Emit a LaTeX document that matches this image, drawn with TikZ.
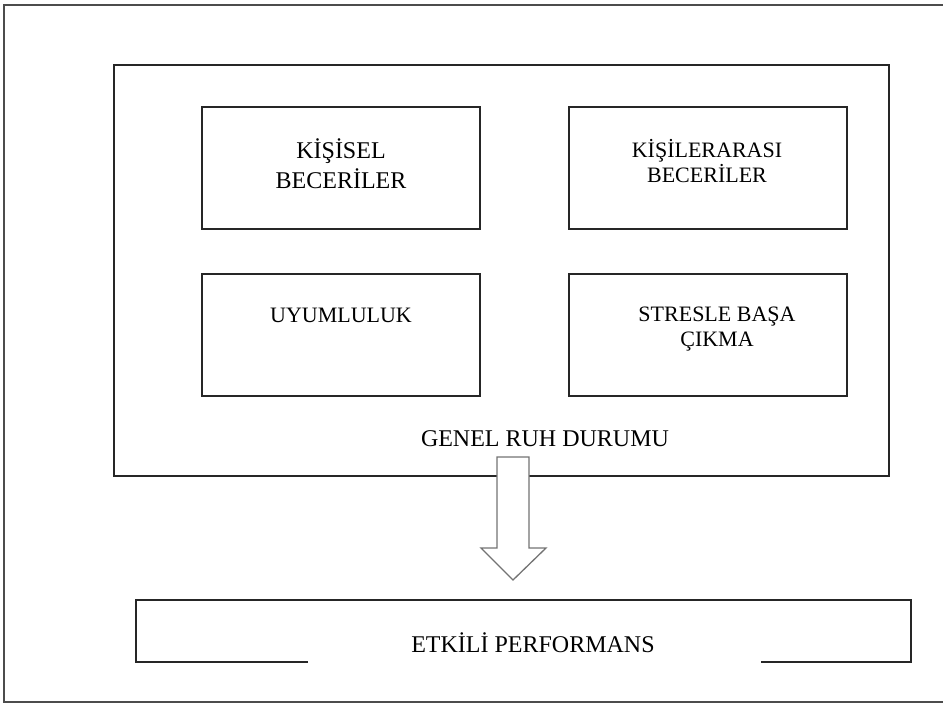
\documentclass[tikz,border=0pt]{standalone}
\usepackage{fontspec}
\setmainfont{Liberation Serif}
\usetikzlibrary{positioning,calc}
\tikzset{
  skill/.style={draw=black!85, line width=1.8pt, minimum width=278pt, minimum height=122pt, inner sep=0pt},
  skilltxt/.style={align=center, inner sep=0pt, anchor=base, font=\fontsize{22}{25}\selectfont},
  pageframe/.style={draw=black!70, line width=1.6pt},
  boxline/.style={draw=black!85, line width=1.8pt},
  lbl/.style={inner sep=0pt, anchor=base, font=\fontsize{24}{28}\selectfont},
  hollow/.style={draw=black!55, fill=white, line width=1.3pt, line join=miter},
}

\begin{document}
\begin{tikzpicture}[x=1pt,y=-1pt]
\useasboundingbox (0,0) rectangle (943,704);
% page frame, open on the right
\draw[pageframe] (943,5) -- (4,5) -- (4,702) -- (943,702);

\node[boxline, minimum width=775pt, minimum height=411pt] (ruh) at (501.5,270.5) {};
\node[skill] (kisisel) at (341,168) {};
\node[skill, right=87pt of kisisel] (kisiler) {};
\node[skill, below=43pt of kisisel] (uyum) {};
\node[skill, below=43pt of kisiler] (stres) {};

\node[skilltxt, font=\fontsize{24}{30}\selectfont] (kisiseltxt) at (341,188) {KİŞİSEL\\BECERİLER};
\node[skilltxt] (kisilertxt) at (707,182) {KİŞİLERARASI\\BECERİLER};
\node[skilltxt] (uyumtxt) at (341,322) {UYUMLULUK};
\node[skilltxt] (strestxt) at (717,346) {STRESLE BAŞA\\ÇIKMA};
\node[lbl] (ruhtxt) at (545,446) {GENEL RUH DURUMU};

% hollow block arrow
\coordinate (tail) at (513,457);
\coordinate (tip) at (513,580);
\draw[hollow] ($(tail)+(-16,0)$) -- ($(tail)+(16,0)$) -- ($(tip)+(16,-32)$) -- ($(tip)+(33,-32)$)
  -- (tip) -- ($(tip)+(-32,-32)$) -- ($(tip)+(-16,-32)$) -- cycle;

\node[lbl] (perf) at (533,652) {ETKİLİ PERFORMANS};
\draw[boxline] (308,662) -- (136,662) -- (136,600) -- (911,600) -- (911,662) -- (761,662);
\end{tikzpicture}
\end{document}
